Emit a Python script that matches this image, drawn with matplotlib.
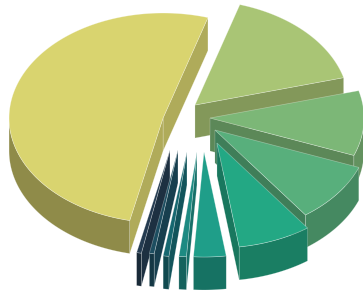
import numpy as np
import matplotlib
import matplotlib.pyplot as plt
from matplotlib.patches import Polygon
from matplotlib.colors import to_rgb

matplotlib.use('Agg')

# Slice data, clockwise from the start angle
categories = ['A', 'B', 'C', 'D', 'E', 'F', 'G', 'H', 'I', 'J']
values = [51.25, 16.1, 10.0, 9.2, 7.7, 3.4, 0.78, 0.6, 0.5, 0.5]
colors = ['#d9d46f', '#a9c575', '#7cb777', '#58af7c', '#23a884',
          '#1f9e89', '#1d8a82', '#166870', '#1d4e60', '#243b50']

# explode distance (fraction of radius) and direction (deg) per slice
explode = [0.199, 0.221, 0.161, 0.163, 0.226, 0.246, 0.233, 0.230, 0.224, 0.247]
explode_dir = [151.5, 81.6, 36.2, -6.7, -39.2, -68.3, -78.8, -94.9, -110.4, -121.8]

# Projection settings (pixel space)
W, H = 363, 293
cx, cy = 190, 128
rx, ry = 154, 105
depth = 33
start_angle = -102.5


def shade(c, f):
    r, g, b = to_rgb(c)
    return (r * f, g * f, b * f)


def rim(px, py, t, dz=0):
    t = np.radians(t)
    return np.column_stack([px + rx * np.cos(t), py - ry * np.sin(t) + dz])


fig = plt.figure(figsize=(W / 100, H / 100), dpi=100)
ax = fig.add_axes([0, 0, 1, 1])
ax.set_xlim(0, W)
ax.set_ylim(H, 0)
ax.axis('off')

total = sum(values)
edge = (1, 1, 1, 0.35)

slices = []
a_start = start_angle
for i, v in enumerate(values):
    span = v / total * 360
    # clockwise: slice goes from a_start down to a_start - span
    a1 = a_start
    a0 = a_start - span
    a_start = a0
    d = np.radians(explode_dir[i])
    px = cx + explode[i] * rx * np.cos(d)
    py = cy - explode[i] * ry * np.sin(d)
    slices.append((py, i, a0, a1, px))

# back to front
for py, i, a0, a1, px in sorted(slices):
    col = colors[i]
    # radial cut faces
    for a, normal in ((a0, a0 - 90), (a1, a1 + 90)):
        if np.sin(np.radians(normal)) < 0:
            p = rim(px, py, np.array([a]))[0]
            quad = [(px, py), tuple(p), (p[0], p[1] + depth), (px, py + depth)]
            f = 0.76 + 0.05 * np.cos(np.radians(normal))
            ax.add_patch(Polygon(quad, closed=True, facecolor=shade(col, f),
                                 edgecolor=edge, lw=0.4))
    # outer wall, front part only
    for k in range(-2, 3):
        lo = max(a0, 180 + 360 * k)
        hi = min(a1, 360 + 360 * k)
        if hi > lo:
            t = np.linspace(lo, hi, 60)
            top = rim(px, py, t)
            bot = rim(px, py, t[::-1], depth)
            f = 0.72 + 0.08 * np.cos(np.radians((lo + hi) / 2))
            ax.add_patch(Polygon(np.vstack([top, bot]), closed=True,
                                 facecolor=shade(col, f), edgecolor=edge, lw=0.4))
    # top face
    t = np.linspace(a0, a1, max(int((a1 - a0) * 2), 4))
    pts = np.vstack([[px, py], rim(px, py, t)])
    ax.add_patch(Polygon(pts, closed=True, facecolor=col, edgecolor=edge, lw=0.5))

plt.savefig('out.png', dpi=100)
